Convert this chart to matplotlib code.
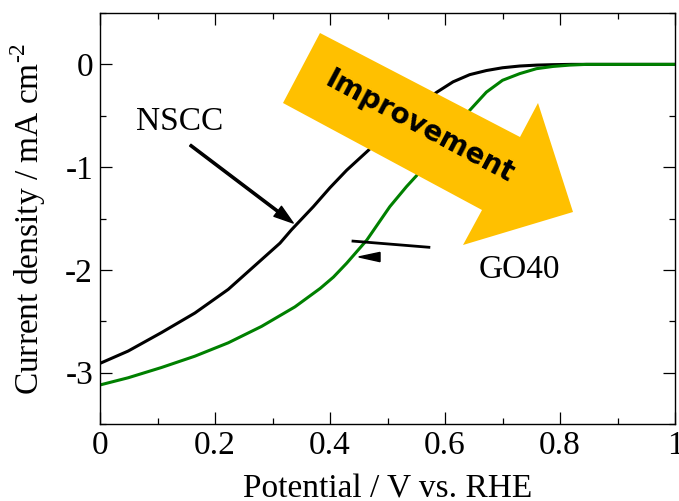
import numpy as np
import matplotlib
matplotlib.use("Agg")
import matplotlib.pyplot as plt
from matplotlib.patches import Polygon
import matplotlib.transforms as mtransforms

plt.rcParams['font.family'] = ['Liberation Serif', 'DejaVu Serif']
plt.rcParams['axes.unicode_minus'] = False

# --- LSV curves ---
nscc_x = [0.000, 0.049, 0.107, 0.165, 0.223, 0.281, 0.313, 0.333, 0.371, 0.400,
          0.429, 0.467, 0.500, 0.530, 0.560, 0.586, 0.614, 0.643, 0.672, 0.700,
          0.730, 0.760, 0.788, 0.820, 1.000]
nscc_y = [-2.91, -2.79, -2.61, -2.42, -2.19, -1.90, -1.74, -1.61, -1.385, -1.20,
          -1.03, -0.835, -0.65, -0.50, -0.37, -0.27, -0.17, -0.10, -0.06, -0.033,
          -0.016, -0.007, -0.003, 0.0, 0.0]

go40_x = [0.000, 0.049, 0.107, 0.165, 0.223, 0.281, 0.339, 0.383, 0.406, 0.429,
          0.464, 0.504, 0.533, 0.551, 0.580, 0.610, 0.643, 0.672, 0.700, 0.730,
          0.759, 0.788, 0.817, 0.846, 1.000]
go40_y = [-3.12, -3.05, -2.95, -2.84, -2.71, -2.55, -2.36, -2.18, -2.07, -1.935,
          -1.71, -1.385, -1.19, -1.08, -0.87, -0.67, -0.447, -0.27, -0.155, -0.09,
          -0.042, -0.02, -0.007, 0.0, 0.0]

x_ticks = [0, 0.2, 0.4, 0.6, 0.8, 1]
x_ticklabels = ['0', '0.2', '0.4', '0.6', '0.8', '1']
y_ticks = [0, -1, -2, -3]
y_ticklabels = ['0', '-1', '-2', '-3']

fig = plt.figure(figsize=(6.79, 5.01), dpi=100)
ax = fig.add_axes([100/679, 1-424/501, 575/679, 411/501])

ax.plot(nscc_x, nscc_y, color='black', lw=2.2, zorder=2,
        solid_joinstyle='round')
ax.plot(go40_x, go40_y, color='#008000', lw=2.2, zorder=2,
        solid_joinstyle='round')

ax.set_xlim(0, 1)
ax.set_ylim(-3.5, 0.5)
ax.set_xticks(x_ticks)
ax.set_xticklabels(x_ticklabels)
ax.set_yticks(y_ticks)
ax.set_yticklabels(y_ticklabels)
ax.set_xticks(np.arange(0.1, 1.0, 0.2), minor=True)
ax.set_yticks([0.5, -0.5, -1.5, -2.5, -3.5], minor=True)
ax.tick_params(which='both', direction='in', top=True, right=True, width=0.9,
               labelsize=24)
ax.tick_params(which='major', length=8.5)
ax.tick_params(which='minor', length=4.3)
ax.tick_params(axis='x', pad=5)
ax.tick_params(axis='y', pad=5)
for s in ax.spines.values():
    s.set_linewidth(1.0)

ax.set_xlabel('Potential / V vs. RHE', fontsize=24)
ax.set_ylabel('Current density / mA cm$^{\\mathregular{\u2010}\\mathregular{2}}$',
              fontsize=24)
ax.xaxis.set_label_coords(0.5, -0.122)
ax.yaxis.set_label_coords(-0.09, 0.5)

# labels and pointers
ax.text(0.139, -0.56, 'NSCC', fontsize=24, ha='center', va='center')
ax.annotate('', xy=(0.336, -1.544), xytext=(0.157, -0.786),
            arrowprops=dict(facecolor='black', edgecolor='black', width=1.6,
                            headwidth=9, headlength=14, shrink=0))
ax.text(0.730, -2.0, 'GO40', fontsize=24, ha='center', va='center')
ax.plot([0.44, 0.572], [-1.72, -1.78], color='black', lw=2.0, zorder=3)
ax.add_patch(Polygon([(0.450, -1.874), (0.487, -1.83), (0.487, -1.92)],
                     closed=True, facecolor='black', edgecolor='black', zorder=3))

# big "Improvement" block arrow, drawn in image pixels
px = mtransforms.Affine2D().scale(1/679, -1/501).translate(0, 1) + fig.transFigure
arrow_pts = [(320, 33), (520, 137), (538, 103), (573, 212),
             (463, 245), (482, 210), (283, 103)]
fig.patches.append(Polygon(arrow_pts, closed=True, facecolor='#FFC000',
                           edgecolor='none', transform=px, zorder=5))
fig.text(420, 127, 'Improvement', transform=px, rotation=-28,
         ha='center', va='center', fontsize=20, fontweight='bold',
         family='DejaVu Sans', zorder=6)

fig.savefig('out.png', dpi=100)
